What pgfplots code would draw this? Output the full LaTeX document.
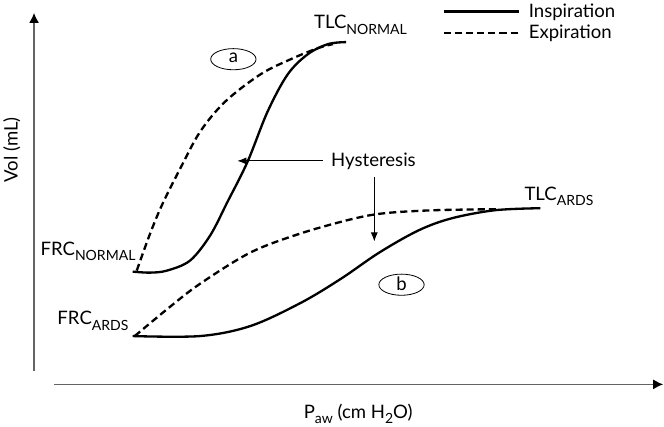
\documentclass[border=0pt]{standalone}
\usepackage{pgfplots}
\pgfplotsset{compat=1.18}
\usetikzlibrary{arrows.meta}
\usepackage{fontspec}
\setmainfont{Lato}

\newcommand{\sub}[1]{\raisebox{-5bp}{\fontsize{14}{14}\selectfont #1}}
\definecolor{axisgray}{RGB}{100,100,100}

\begin{document}
\begin{tikzpicture}[font=\fontsize{18.5}{22}\selectfont]
\begin{axis}[
  width=664bp, height=423bp, scale only axis,
  xmin=0, xmax=664, ymin=0, ymax=423, y dir=reverse,
  hide axis, clip=false,
  legend style={draw=none, fill=none, at={(axis cs:438,-1)}, anchor=north west,
    font=\fontsize{18.5}{22}\selectfont, row sep=2bp,
    /tikz/every odd column/.append style={column sep=7bp}},
  legend cell align=left,
  legend image code/.code={\draw[#1] (0bp,0bp) -- (74bp,0bp);},
]
% normal lung
\addplot[black, line width=2.3bp, smooth, tension=0.55] coordinates {
  (133,269) (150,270) (167,268) (190,258) (210,233) (227,200) (247,160)
  (267,110) (287,73) (307,53) (327,43) (345,41)};
\addlegendentry{Inspiration}
\addplot[black, line width=2.3bp, dash pattern=on 7bp off 4bp, smooth, tension=0.55] coordinates {
  (137,268) (150,232) (162,203) (180,167) (200,130) (225,100) (260,73)
  (290,58) (317,47) (332,43)};
\addlegendentry{Expiration}
% ARDS lung
\addplot[black, line width=2.3bp, smooth, tension=0.55, forget plot] coordinates {
  (133,333) (200,333) (250,323) (300,300) (340,276) (378,250) (417,228)
  (450,216) (493,208) (538,206)};
\addplot[black, line width=2.3bp, dash pattern=on 7bp off 4bp, smooth, tension=0.55, forget plot] coordinates {
  (135,333) (170,304) (200,281) (250,250) (300,231) (350,217) (383,211)
  (433,208) (495,207)};

% axes
\draw[axisgray, line width=1.5bp, -{Latex[length=10bp,width=10bp,black]}] (axis cs:35,368) -- (axis cs:35,12);
\draw[axisgray, line width=1.5bp, -{Latex[length=10bp,width=10bp,black]}] (axis cs:55,381) -- (axis cs:660,381);
\node[rotate=90] at (axis cs:13,148) {Vol (mL)};
\node at (axis cs:357,410) {P\sub{aw} (cm H\sub{2}O)};

% labels
\node[anchor=base west, inner sep=0] at (axis cs:313,28) {TLC\sub{NORMAL}};
\node[anchor=base west, inner sep=0] at (axis cs:522,198) {TLC\sub{ARDS}};
\node[anchor=base east, inner sep=0] at (axis cs:136,253) {FRC\sub{NORMAL}};
\node[anchor=base east, inner sep=0] at (axis cs:129,322) {FRC\sub{ARDS}};
\node[anchor=base west, inner sep=0] at (axis cs:330,165) {Hysteresis};
\draw[black, line width=0.8bp, -{Latex[length=9bp,width=7bp]}] (axis cs:322,159) -- (axis cs:237,159);
\draw[black, line width=0.8bp, -{Latex[length=9bp,width=7bp]}] (axis cs:373,175) -- (axis cs:373,239);

% loop markers
\draw[line width=0.8bp] (axis cs:233,58) ellipse [x radius=22.5bp, y radius=10.5bp];
\node at (axis cs:233,57) {a};
\draw[line width=0.8bp] (axis cs:400,282) ellipse [x radius=22.5bp, y radius=10.5bp];
\node at (axis cs:400,281) {b};
\end{axis}
\end{tikzpicture}
\end{document}
